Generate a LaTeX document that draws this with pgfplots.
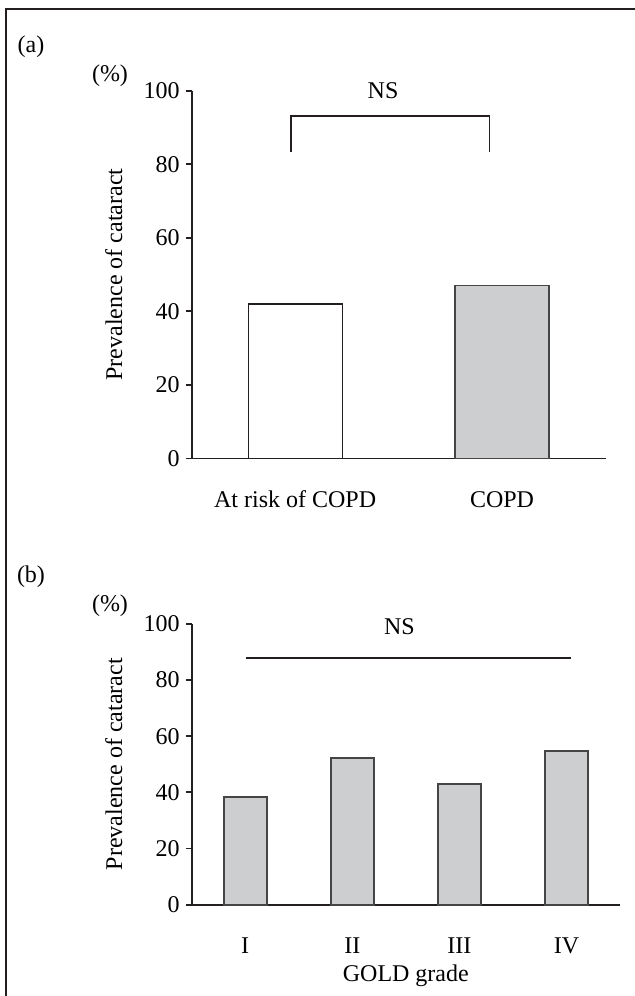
\documentclass[border=0pt]{standalone}
\usepackage{fontspec}
\setmainfont{Liberation Serif}
\usepackage{pgfplots}
\pgfplotsset{compat=1.18}
\definecolor{axc}{HTML}{231F20}
\definecolor{barfill}{HTML}{CDCED0}
\definecolor{baredge}{HTML}{454545}
\newcommand{\fs}{\fontsize{12}{14}\selectfont}
\pgfplotsset{
  panel/.style={
    scale only axis, anchor=south west,
    ymin=0, ymax=100,
    axis lines*=left,
    axis line style={axc, line width=0.9pt},
    x tick style={draw=none},
    ytick={0,20,...,100},
    y tick style={axc, line width=0.9pt},
    tick align=outside, major tick length=2.85pt,
    tick label style={font=\fs},
    label style={font=\fs},
    yticklabel style={anchor=east, inner sep=0pt, xshift=-3pt},
    xticklabel style={anchor=base, inner sep=0pt, yshift=-21.5pt},
    ylabel={Prevalence of cataract},
    /pgf/number format/assume math mode=true,
    ybar, bar shift=0pt,
    clip=false,
  }
}
\begin{document}
\fs
\begin{tikzpicture}
\useasboundingbox (0,0) rectangle (317pt,498pt);
\fill[white] (0,0) rectangle (317pt,498pt);
\draw[axc, line width=1.3pt] (3pt,-2pt) -- (3pt,493.5pt) -- (320pt,493.5pt);
\node[font=\fs] at (15.5pt,474.5pt) {(a)};
\node[font=\fs] at (55pt,460pt) {(\%)};
\node[font=\fs] at (15.5pt,209.5pt) {(b)};
\node[font=\fs] at (55pt,195pt) {(\%)};

\begin{axis}[panel,
  at={(95.85pt,268.75pt)},
  width=206.9pt, height=183.9pt,
  xmin=0.5, xmax=2.5,
  xtick={1,2}, xticklabels={At risk of COPD, COPD},
  every axis y label/.style={at={(axis description cs:-0.1885,0.5)}, rotate=90, anchor=center},
  bar width=47pt,
]
\addplot[fill=white, draw=axc, line width=0.6pt] coordinates {(1,42.0)};
\addplot[fill=barfill, draw=baredge, line width=0.8pt] coordinates {(2,47.0)};
\draw[axc, line width=0.8pt] (axis cs:0.98,83.4) -- (axis cs:0.98,93.2) -- (axis cs:1.94,93.2) -- (axis cs:1.94,83.4);
\node[font=\fs] at (axis cs:1.425,99.9) {NS};
\end{axis}

\begin{axis}[panel,
  at={(95.85pt,45.7pt)},
  width=214.15pt, height=140.35pt,
  xmin=0.5, xmax=4.5,
  xtick={1,2,3,4}, xticklabels={I,II,III,IV},
  xlabel={GOLD grade},
  every axis x label/.style={at={(axis description cs:0.5,0)}, anchor=base, yshift=-38.5pt},
  every axis y label/.style={at={(axis description cs:-0.182,0.5)}, rotate=90, anchor=center},
  bar width=21.5pt,
]
\addplot[fill=barfill, draw=baredge, line width=1pt] coordinates {(1,38.4) (2,52.3) (3,42.8) (4,54.6)};
\draw[axc, line width=1pt] (axis cs:1.004,88) -- (axis cs:4.04,88);
\node[font=\fs] at (axis cs:2.44,98.9) {NS};
\end{axis}
\end{tikzpicture}
\end{document}
